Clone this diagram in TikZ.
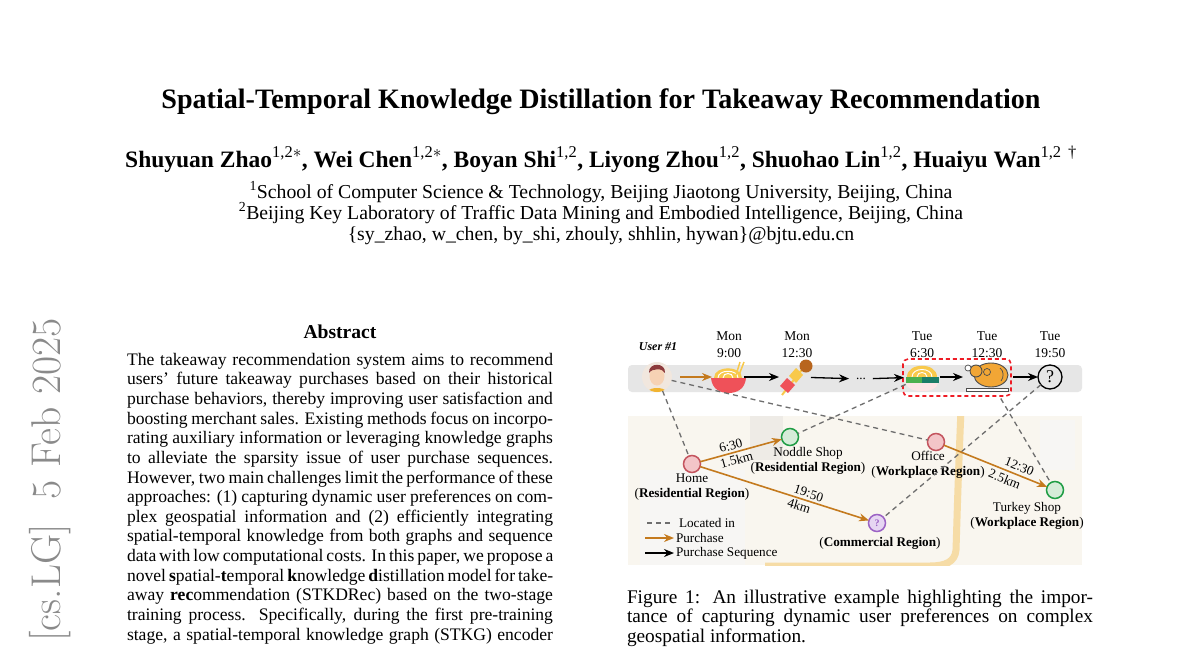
\documentclass[tikz,border=0pt]{standalone}
\usepackage{fontspec}
\setmainfont{Liberation Serif}
\usetikzlibrary{arrows.meta,positioning}

\definecolor{barGray}{HTML}{E6E6E6}
\definecolor{mapBg}{HTML}{F9F6EF}
\definecolor{roadTan}{HTML}{F6DCA6}
\definecolor{blockGray}{HTML}{EEEBE6}
\definecolor{purchase}{HTML}{C47A1E}
\definecolor{locGray}{HTML}{6E6E6E}
\definecolor{homeRed}{HTML}{C4545E}
\definecolor{homeFill}{HTML}{F3C5C8}
\definecolor{shopGreen}{HTML}{1F9D45}
\definecolor{shopFill}{HTML}{D5ECD8}
\definecolor{areaPurple}{HTML}{9B62C4}
\definecolor{areaFill}{HTML}{E6D6F2}
\definecolor{boxRed}{HTML}{EE1C25}
\definecolor{stampGray}{HTML}{8A8A8A}
\definecolor{bowlRed}{HTML}{EF5159}
\definecolor{noodleYellow}{HTML}{F8C94B}
\definecolor{meatBrown}{HTML}{B8651E}
\definecolor{leafGreen}{HTML}{4DB04F}
\definecolor{leafTeal}{HTML}{1C7D68}
\definecolor{roastOrange}{HTML}{F2A635}
\definecolor{skin}{HTML}{F6D2B4}
\definecolor{hair}{HTML}{8C3A3C}
\definecolor{shirt}{HTML}{F1B431}
\definecolor{avatarBg}{HTML}{F1E7DE}

\newcommand{\abstractfont}{\fontsize{17.6}{19.64}\selectfont}
\newcommand{\captionfont}{\fontsize{19.3}{19.5}\selectfont}
\newcommand{\mapfont}{\fontsize{13.2}{15.5}\selectfont}
\newcommand{\affmark}[1]{\textsuperscript{\mdseries #1}}

\begin{document}
\begin{tikzpicture}[x=1pt,y=-1pt,
    every node/.style={inner sep=0pt,outer sep=0pt},
    loc/.style={draw=locGray,line width=1.3pt,dash pattern=on 5pt off 4pt},
    buy/.style={draw=purchase,line width=1.6pt,-{Stealth[length=10pt,width=8pt]}},
    seq/.style={draw=black,line width=1.3pt,-{Stealth[length=10pt,width=8pt]}},
    place/.style={circle,minimum size=17pt,line width=1.5pt},
    homeplace/.style={place,draw=homeRed,fill=homeFill},
    shopplace/.style={place,draw=shopGreen,fill=shopFill},
    icon/.style={circle,minimum size=#1},
    maplabel/.style={font=\mapfont,align=center},
    timelabel/.style={font=\fontsize{13.5}{17}\selectfont,align=center},
    edgelabel/.style={font=\mapfont,sloped}]
    \useasboundingbox[fill=white] (0,0) rectangle (1200,648);

    % arXiv stamp
    \node[rotate=90,text=stampGray,font=\fontfamily{lmr}\selectfont\fontsize{41.6}{44}\selectfont] (stamp) at (50,480) {[cs.LG]\ \ 5 Feb 2025};

    % title block
    \node[anchor=base,font=\fontsize{28.1}{32}\selectfont\bfseries] (title) at (601,108)
        {Spatial-Temporal Knowledge Distillation for Takeaway Recommendation};
    \node[anchor=base,font=\fontsize{23.5}{26}\selectfont\bfseries] (authors) at (601,167)
        {Shuyuan Zhao\affmark{1,2$*$}, Wei Chen\affmark{1,2$*$}, Boyan Shi\affmark{1,2}, Liyong Zhou\affmark{1,2}, Shuohao Lin\affmark{1,2}, Huaiyu Wan\affmark{1,2 \,†}};
    \node[anchor=base,font=\fontsize{19.75}{21}\selectfont] (affil1) at (601,198)
        {\textsuperscript{1}School of Computer Science \& Technology, Beijing Jiaotong University, Beijing, China};
    \node[anchor=base,font=\fontsize{19.75}{21}\selectfont] (affil2) at (601,219)
        {\textsuperscript{2}Beijing Key Laboratory of Traffic Data Mining and Embodied Intelligence, Beijing, China};
    \node[anchor=base,font=\fontsize{19.75}{21}\selectfont] (email) at (601,240)
        {\{sy\_zhao, w\_chen, by\_shi, zhouly, shhlin, hywan\}@bjtu.edu.cn};

    % abstract
    \node[anchor=base,font=\fontsize{19.6}{21}\selectfont\bfseries] (abshead) at (340,338) {Abstract};
    \node[anchor=north west,align=left,font=\abstractfont] (abstract) at (127,353)
        {\makebox[426pt][s]{The takeaway recommendation system aims to recommend}\\
         \makebox[426pt][s]{users' future takeaway purchases based on their historical}\\
         \makebox[426pt][s]{purchase behaviors, thereby improving user satisfaction and}\\
         \makebox[426pt][s]{boosting merchant sales. Existing methods focus on incorpo-}\\
         \makebox[426pt][s]{rating auxiliary information or leveraging knowledge graphs}\\
         \makebox[426pt][s]{to alleviate the sparsity issue of user purchase sequences.}\\
         \makebox[426pt][s]{However, two main challenges limit the performance of these}\\
         \makebox[426pt][s]{approaches: (1) capturing dynamic user preferences on com-}\\
         \makebox[426pt][s]{plex geospatial information and (2) efficiently integrating}\\
         \makebox[426pt][s]{spatial-temporal knowledge from both graphs and sequence}\\
         \makebox[426pt][s]{data with low computational costs. In this paper, we propose a}\\
         \makebox[426pt][s]{novel \textbf{s}patial-\textbf{t}emporal \textbf{k}nowledge \textbf{d}istillation model for take-}\\
         \makebox[426pt][s]{away \textbf{rec}ommendation (STKDRec) based on the two-stage}\\
         \makebox[426pt][s]{training process. Specifically, during the first pre-training}\\
         \makebox[426pt][s]{stage, a spatial-temporal knowledge graph (STKG) encoder}};

    % figure backgrounds
    \fill[mapBg] (628,416) rectangle (1082,565);
    \begin{scope}
        \clip (628,416) rectangle (1082,565);
        \fill[blockGray] (750,416) rectangle (783,460);
        \fill[blockGray!45] (640,470) rectangle (745,565);
        \fill[blockGray!45] (1040,420) rectangle (1075,470);
        \draw[roadTan,line width=7pt] (961,410) .. controls (958,480) and (957,520) .. (956,550)
            .. controls (955,562) and (945,566) .. (930,566) -- (765,566);
    \end{scope}
    \fill[barGray,rounded corners=4pt] (628,365) rectangle (1082,392);

    % user avatar
    \begin{scope}
        \clip (657,377) circle (15);
        \fill[avatarBg] (657,377) circle (15);
        \fill[shirt] (657,398) ellipse (14 and 10);
        \fill[skin] (657,376) ellipse (7.5 and 9.5);
        \fill[hair] (649,373) .. controls (648,362) and (666,362) .. (665,373)
            .. controls (663,368) and (652,368) .. (649,373) -- cycle;
    \end{scope}
    \node[icon=30pt] (user) at (657,377) {};
    \node[font=\fontsize{12}{12}\selectfont\bfseries\itshape] (username) at (658,347) {User \#1};

    % noodle bowl
    \fill[noodleYellow] (714,378) .. controls (714,365) and (742,365) .. (742,378) -- cycle;
    \draw[white,line width=1pt] (718,378) .. controls (718,369) and (738,369) .. (738,378);
    \draw[white,line width=1pt] (723,378) .. controls (723,372) and (733,372) .. (733,378);
    \draw[noodleYellow,line width=1.5pt] (736,375) -- (740,362) (739,375) -- (744,362);
    \fill[bowlRed] (711,378) -- (746,378) .. controls (745,389) and (737,393) .. (728.5,393)
        .. controls (720,393) and (712,389) .. (711,378) -- cycle;
    \node[icon=32pt] (bowl) at (728,377) {};

    % skewer
    \draw[noodleYellow,line width=2pt] (782,395) -- (808,362);
    \fill[bowlRed] (795,385) -- (787,378) -- (780,386) -- (788,393) -- cycle;
    \fill[noodleYellow] (803,375) -- (796,368) -- (789,376) -- (796,383) -- cycle;
    \fill[meatBrown] (806,366) circle (6.5);
    \node[icon=32pt] (skewer) at (795,377) {};

    \node[font=\mapfont,inner xsep=7pt] (dots) at (861,379) {...};

    % salad
    \fill[white!85!bowlRed] (906,383) .. controls (907,394) and (937,394) .. (938,383) -- cycle;
    \fill[noodleYellow] (907,377) .. controls (907,362) and (937,362) .. (937,377) -- cycle;
    \draw[white,line width=0.9pt] (912,377) .. controls (912,367) and (932,367) .. (932,377);
    \draw[white,line width=0.9pt] (917,377) .. controls (917,371) and (927,371) .. (927,377);
    \fill[leafGreen] (906,377) rectangle (922,383);
    \fill[leafTeal] (922,377) rectangle (939,383);
    \node[icon=36pt] (salad) at (922,377) {};

    % roast turkey
    \filldraw[fill=white,draw=black!70,line width=0.8pt] (966,388) rectangle (1008,391);
    \filldraw[fill=roastOrange,draw=black!70,line width=0.9pt] (991,375) ellipse (17 and 12);
    \filldraw[fill=roastOrange,draw=black!70,line width=0.9pt] (976,371) circle (6);
    \filldraw[fill=white,draw=black!70,line width=0.7pt] (968,368) circle (3);
    \draw[black!70,line width=0.7pt] (987,372) circle (3.5);
    \draw[black!70,line width=0.7pt] (1000,368) .. controls (1004,371) and (1004,377) .. (1001,381);
    \node[icon=50pt] (turkey) at (988,377) {};

    \node[circle,draw,line width=1.3pt,minimum size=24pt,font=\fontsize{18}{18}\selectfont] (query) at (1050,377) {?};

    % candidate window
    \draw[boxRed,line width=1.6pt,dash pattern=on 4pt off 3pt,rounded corners=5pt] (903,359) rectangle (1011,396);

    % time stamps
    \node[timelabel] (t1) at (729,345) {Mon\\9:00};
    \node[timelabel] (t2) at (797,345) {Mon\\12:30};
    \node[timelabel] (t3) at (922,345) {Tue\\6:30};
    \node[timelabel] (t4) at (987,345) {Tue\\12:30};
    \node[timelabel] (t5) at (1050,345) {Tue\\19:50};

    % map places
    \node[homeplace] (home) at (692,464) {};
    \node[shopplace] (noodle) at (790,437) {};
    \node[homeplace] (office) at (936,442) {};
    \node[shopplace] (turkeyshop) at (1055,490) {};
    \node[place,draw=areaPurple,fill=areaFill,text=areaPurple,font=\bfseries\fontsize{10}{10}\selectfont] (commercial) at (877,523) {?};

    \node[maplabel] (homelabel) at (692,487) {Home\\(\textbf{Residential Region})};
    \node[maplabel] (noodlelabel) at (808,461) {Noddle Shop\\(\textbf{Residential Region})};
    \node[maplabel] (officelabel) at (928,465) {Office\\(\textbf{Workplace Region})};
    \node[maplabel] (turkeylabel) at (1027,516) {Turkey Shop\\(\textbf{Workplace Region})};
    \node[maplabel] (commerciallabel) at (880,543) {(\textbf{Commercial Region})};

    % located in
    \draw[loc] (user) -- (home);
    \draw[loc] (user) -- (office);
    \draw[loc] (salad) -- (noodle);
    \draw[loc] (turkey) -- (turkeyshop);
    \draw[loc] (query) -- (commercial);

    % purchase sequence
    \draw[buy,shorten <=8pt] (user) -- (bowl);
    \draw[seq] (bowl) -- (skewer);
    \draw[seq] (skewer) -- (dots);
    \draw[seq] (dots) -- (salad);
    \draw[seq] (salad) -- (turkey);
    \draw[seq] (turkey) -- (query);

    % purchases on the map
    \draw[buy] (home) -- node[edgelabel,above=3pt,pos=0.4] {6:30} node[edgelabel,below=3pt,pos=0.42] {1.5km} (noodle);
    \draw[buy] (home) -- node[edgelabel,above=3pt,pos=0.63] {19:50} node[edgelabel,below=3pt,pos=0.6] {4km} (commercial);
    \draw[buy] (office) -- node[edgelabel,above=4pt,pos=0.7] {12:30} node[edgelabel,below=4pt,pos=0.62] {2.5km} (turkeyshop);

    % legend
    \coordinate (l1a) at (647,523); \coordinate (l1b) at (671,523);
    \coordinate (l2a) at (645,538); \coordinate (l2b) at (674,538);
    \coordinate (l3a) at (645,553); \coordinate (l3b) at (674,553);
    \draw[loc] (l1a) -- (l1b);
    \draw[buy] (l2a) -- (l2b);
    \draw[seq] (l3a) -- (l3b);
    \node[font=\mapfont,anchor=west] (leg1) at (679,523) {Located in};
    \node[font=\mapfont,anchor=west] (leg2) at (676,538) {Purchase};
    \node[font=\mapfont,anchor=west] (leg3) at (676,553) {Purchase Sequence};

    % caption
    \node[anchor=north west,align=left,font=\captionfont] (caption) at (627,590)
        {\makebox[466pt][s]{Figure 1: An illustrative example highlighting the impor-}\\
         \makebox[466pt][s]{tance of capturing dynamic user preferences on complex}\\
         geospatial information.};
\end{tikzpicture}
\end{document}
